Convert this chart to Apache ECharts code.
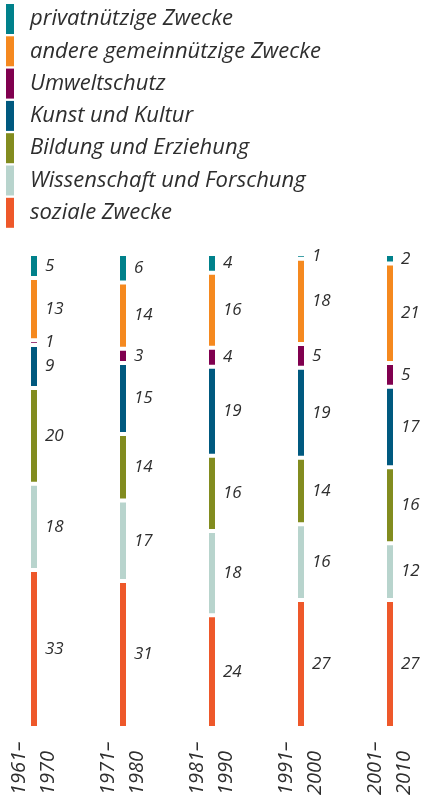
<!DOCTYPE html>
<html>
<head>
<meta charset="utf-8">
<script src="https://cdn.jsdelivr.net/npm/echarts@6/dist/echarts.min.js"></script>
<style>html,body{margin:0;padding:0;background:#fff}#c{width:422px;height:800px}</style>
</head>
<body>
<div id="c"></div>
<script>
// Data
const tickLabels = ['1961–\n1970', '1971–\n1980', '1981–\n1990', '1991–\n2000', '2001–\n2010'];
const seriesNames = ['soziale Zwecke', 'Wissenschaft und Forschung', 'Bildung und Erziehung', 'Kunst und Kultur', 'Umweltschutz', 'andere gemeinnützige Zwecke', 'privatnützige Zwecke'];
const soziale      = [33, 31, 24, 27, 27];
const wissenschaft = [18, 17, 18, 16, 12];
const bildung      = [20, 14, 16, 14, 16];
const kunst        = [9, 15, 19, 19, 17];
const umwelt       = [1, 3, 4, 5, 5];
const andere       = [13, 14, 16, 18, 21];
const privat       = [5, 6, 4, 1, 2];

const raw = [soziale, wissenschaft, bildung, kunst, umwelt, andere, privat];
const colors = ['#ee582a', '#b8d4cd', '#828c1f', '#00597f', '#80004f', '#f5891f', '#00818b'];
const totals = tickLabels.map((_, i) => raw.reduce((s, arr) => s + arr[i], 0));

const font = 'Open Sans';
const textColor = '#2e2e2e';

const chart = echarts.init(document.getElementById('c'), null, {renderer: 'canvas'});
chart.setOption({
  animation: false,
  legend: {
    orient: 'vertical',
    left: 6,
    top: 4,
    padding: 0,
    icon: 'rect',
    itemWidth: 8,
    itemHeight: 30,
    itemGap: 2.3,
    itemStyle: {borderWidth: 0},
    data: seriesNames.slice().reverse(),
    textStyle: {
      fontFamily: font, fontStyle: 'italic', fontSize: 22, color: textColor,
      padding: [0, 0, 0, 11]
    }
  },
  grid: {left: 34, right: 32, top: 254, bottom: 72, containLabel: false, outerBoundsMode: 'none'},
  xAxis: {
    type: 'category',
    data: tickLabels,
    boundaryGap: false,
    axisLine: {show: false},
    axisTick: {show: false},
    splitLine: {show: false},
    axisLabel: {
      interval: 0,
      rotate: 90,
      align: 'left',
      verticalAlign: 'middle',
      margin: 67,
      fontFamily: font, fontStyle: 'italic', fontSize: 20, color: textColor,
      lineHeight: 29
    }
  },
  yAxis: {type: 'value', min: 0, max: 100, show: false},
  series: raw.map((arr, si) => ({
    name: seriesNames[si],
    type: 'bar',
    stack: 'total',
    barWidth: 10,
    color: colors[si],
    itemStyle: {color: colors[si], borderColor: '#ffffff', borderWidth: 2},
    label: {
      show: true,
      position: 'right',
      distance: 6,
      fontFamily: font, fontStyle: 'italic', fontSize: 17, color: textColor,
      formatter: p => String(arr[p.dataIndex])
    },
    data: arr.map((v, i) => v * 100 / totals[i])
  }))
});
</script>
</body>
</html>
